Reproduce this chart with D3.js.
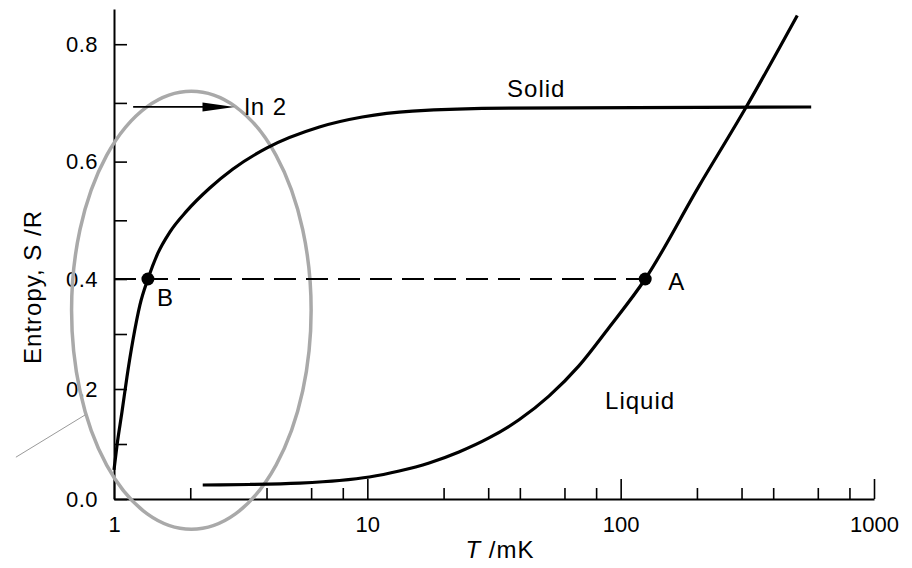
<!DOCTYPE html>
<html>
<head>
<meta charset="utf-8">
<script src="https://cdn.jsdelivr.net/npm/d3@7"></script>
<style>
body { margin: 0; background: #fff; }
svg text { font-family: "Liberation Sans", Arial, sans-serif; font-size: 24px; letter-spacing: 1px; fill: #000; }
</style>
</head>
<body>
<div id="chart"></div>
<script>
// entropy of solid and liquid 3He vs temperature
var solidT = [1, 1.028, 1.075, 1.125, 1.188, 1.266, 1.361, 1.49, 1.661, 1.938, 2.388, 2.94, 4.0, 6.47, 9.55, 15.06, 36.2, 565];
var solidS = [0.053, 0.098, 0.158, 0.222, 0.289, 0.353, 0.40, 0.444, 0.480, 0.516, 0.555, 0.587, 0.623, 0.659, 0.676, 0.686, 0.691, 0.693];

var liquidT = [2.24, 3.43, 5.4, 7.76, 10.18, 13.36, 17.54, 23.0, 30.2, 39.7, 52.1, 68.4, 89.7, 125, 203, 313, 498];
var liquidS = [0.0255, 0.0264, 0.029, 0.0336, 0.04, 0.0509, 0.0655, 0.0855, 0.111, 0.144, 0.187, 0.242, 0.311, 0.40, 0.557, 0.693, 0.849];

var xMajorTicks = [1, 10, 100, 1000];
var xMinorTicks = [2, 4, 6, 8, 20, 30, 40, 60, 80, 200, 300, 400, 600, 800];
var yTicks = [0, 0.1, 0.2, 0.3, 0.4, 0.5, 0.6, 0.7, 0.8];
var yLabelled = [0, 0.2, 0.4, 0.6, 0.8];

var points = [
  {T: 125, S: 0.4, label: "A", dx: 23, dy: 11},
  {T: 1.361, S: 0.4, label: "B", dx: 9, dy: 27}
];
var ln2 = Math.log(2);
var arrowFrom = 1.19, arrowTo = 2.99;

var phaseLabels = [
  {text: "Solid", T: 35.6, S: 0.71},
  {text: "Liquid", T: 86.8, S: 0.164}
];

// grey ring drawn round the low-T region, and its pointer line
var ring = {tMin: 0.68, tMax: 6, sMin: -0.055, sMax: 0.72};
var pointer = [{T: 0.41, S: 0.076}, {T: 0.77, S: 0.153}];

var width = 912, height = 568;

var svg = d3.select("#chart").append("svg")
  .attr("width", width)
  .attr("height", height);

var x = d3.scaleLog().domain([1, 1000]).range([114, 874]);
// the scanned axis is a little uneven, so a piecewise scale follows its ticks
var y = d3.scaleLinear().domain([0, 0.4, 0.86]).range([499, 279, 9]);

// y axis, ticks inward
var yAxis = svg.append("g")
  .attr("transform", "translate(" + x(1) + ",0)")
  .call(d3.axisLeft(y)
    .tickValues(yTicks)
    .tickSize(-13)
    .tickSizeOuter(0)
    .tickPadding(16)
    .tickFormat(function(d) { return yLabelled.indexOf(d) >= 0 ? d3.format(".1f")(d) : ""; }));
yAxis.select(".domain").attr("stroke-width", 2);
yAxis.selectAll(".tick line").attr("stroke-width", 1.6);
yAxis.selectAll("text").attr("font-size", null).attr("font-family", null)
  .style("font-size", "22px").style("letter-spacing", "0.5px");

// x axis, major ticks with labels
var xAxis = svg.append("g")
  .attr("transform", "translate(0," + y(0) + ")")
  .call(d3.axisBottom(x)
    .tickValues(xMajorTicks)
    .tickSize(-20)
    .tickSizeOuter(0)
    .tickPadding(17)
    .tickFormat(d3.format("d")));
xAxis.select(".domain").attr("stroke-width", 2);
xAxis.selectAll(".tick line").attr("stroke-width", 1.6);
xAxis.selectAll("text").attr("font-size", null).attr("font-family", null)
  .style("font-size", "22px").style("letter-spacing", "0px");

var xMinor = svg.append("g")
  .attr("transform", "translate(0," + y(0) + ")")
  .call(d3.axisBottom(x)
    .tickValues(xMinorTicks)
    .tickSize(-11)
    .tickFormat(""));
xMinor.select(".domain").remove();
xMinor.selectAll(".tick line").attr("stroke-width", 1.6);

// axis titles
svg.append("text")
  .attr("transform", "translate(41,287) rotate(-90)")
  .attr("text-anchor", "middle")
  .text("Entropy, S /R");

var xt = svg.append("text")
  .attr("x", 500)
  .attr("y", 558)
  .attr("text-anchor", "middle");
xt.append("tspan").attr("font-style", "italic").text("T");
xt.append("tspan").text(" /mK");

// ring and pointer
var rx = (x(ring.tMax) - x(ring.tMin)) / 2;
var ry = (y(ring.sMin) - y(ring.sMax)) / 2;
svg.append("ellipse")
  .attr("cx", x(ring.tMin) + rx)
  .attr("cy", y(ring.sMax) + ry)
  .attr("rx", rx)
  .attr("ry", ry)
  .attr("fill", "none")
  .attr("stroke", "#a9a9a9")
  .attr("stroke-width", 3.5);

svg.append("line")
  .attr("x1", x(pointer[0].T)).attr("y1", y(pointer[0].S))
  .attr("x2", x(pointer[1].T)).attr("y2", y(pointer[1].S))
  .attr("stroke", "#9a9a9a")
  .attr("stroke-width", 1);

// dashed level from the axis to A
svg.append("line")
  .attr("x1", x(1)).attr("y1", y(0.4))
  .attr("x2", x(points[0].T)).attr("y2", y(0.4))
  .attr("stroke", "#000")
  .attr("stroke-width", 1.8)
  .attr("stroke-dasharray", "22,10");

var line = d3.line()
  .x(function(d) { return x(d.T); })
  .y(function(d) { return y(d.S); })
  .curve(d3.curveMonotoneX);

var solid = solidT.map(function(t, i) { return {T: t, S: solidS[i]}; });
var liquid = liquidT.map(function(t, i) { return {T: t, S: liquidS[i]}; });

svg.append("path")
  .datum(solid)
  .attr("d", line)
  .attr("fill", "none")
  .attr("stroke", "#000")
  .attr("stroke-width", 3.2);

svg.append("path")
  .datum(liquid)
  .attr("d", line)
  .attr("fill", "none")
  .attr("stroke", "#000")
  .attr("stroke-width", 3.2);

// ln 2 arrow
var ay = y(ln2);
var tip = x(arrowTo);
svg.append("line")
  .attr("x1", x(arrowFrom)).attr("y1", ay)
  .attr("x2", tip - 20).attr("y2", ay)
  .attr("stroke", "#000")
  .attr("stroke-width", 1.8);
svg.append("path")
  .attr("d", "M" + tip + "," + ay + "L" + (tip - 32) + "," + (ay - 4.5) + "L" + (tip - 32) + "," + (ay + 4.5) + "Z")
  .attr("fill", "#000");
svg.append("text")
  .attr("x", tip + 10)
  .attr("y", ay + 8)
  .text("ln 2");

// points A and B
svg.selectAll(".pt")
  .data(points)
  .enter().append("circle")
  .attr("class", "pt")
  .attr("cx", function(d) { return x(d.T); })
  .attr("cy", function(d) { return y(d.S); })
  .attr("r", 6.5)
  .attr("fill", "#000");

svg.selectAll(".ptlabel")
  .data(points)
  .enter().append("text")
  .attr("class", "ptlabel")
  .attr("x", function(d) { return x(d.T) + d.dx; })
  .attr("y", function(d) { return y(d.S) + d.dy; })
  .text(function(d) { return d.label; });

svg.selectAll(".phase")
  .data(phaseLabels)
  .enter().append("text")
  .attr("class", "phase")
  .attr("x", function(d) { return x(d.T); })
  .attr("y", function(d) { return y(d.S); })
  .text(function(d) { return d.text; });
</script>
</body>
</html>
